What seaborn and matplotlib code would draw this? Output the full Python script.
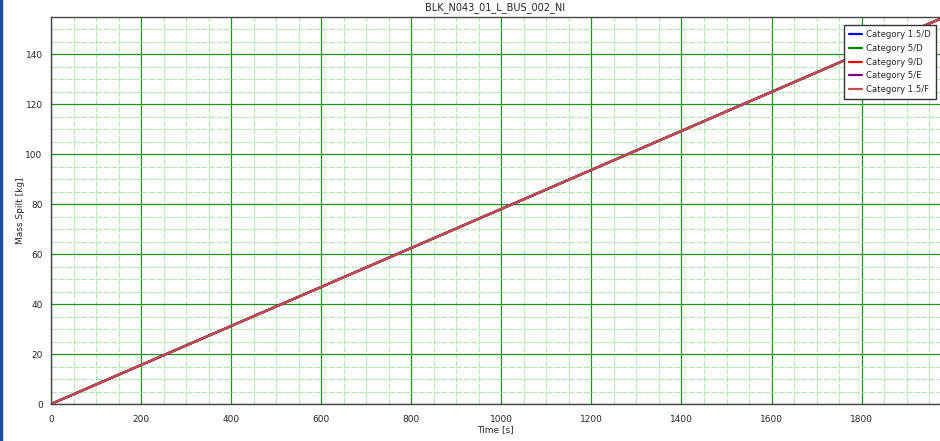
import pandas as pd
import matplotlib.pyplot as plt
from matplotlib.lines import Line2D
from matplotlib.ticker import MultipleLocator
import seaborn as sns

# Values
categories = ['Category 1.5/D', 'Category 5/D', 'Category 9/D', 'Category 5/E', 'Category 1.5/F']
colors = ['#0000ff', '#008000', '#ff0000', '#800080', '#c05050']
time_s = [0, 2000]
mass_kg = [0, 156.25]

rows = []
for cat in categories:
    for t, m in zip(time_s, mass_kg):
        rows.append({'Time [s]': t, 'Mass Spilt [kg]': m, 'category': cat})
df = pd.DataFrame(rows)

sns.set_style('white')
plt.rcParams['font.family'] = ['DejaVu Sans']

fig = plt.figure(figsize=(9.4, 4.41), dpi=100)
ax = fig.add_axes([51 / 940, 1 - 404 / 441, 1 - 51 / 940, (404 - 17) / 441])

sns.lineplot(data=df, x='Time [s]', y='Mass Spilt [kg]', hue='category',
             hue_order=categories, palette=colors, linewidth=1.6, ax=ax)

ax.set_xlim(0, 1974)
ax.set_ylim(0, 155)
ax.xaxis.set_major_locator(MultipleLocator(200))
ax.xaxis.set_minor_locator(MultipleLocator(50))
ax.yaxis.set_major_locator(MultipleLocator(20))
ax.yaxis.set_minor_locator(MultipleLocator(5))

ax.grid(which='minor', color='#9bec9b', linestyle='--', linewidth=0.6, dashes=(7, 2))
ax.grid(which='major', color='#1f931f', linestyle='-', linewidth=0.9)
ax.set_axisbelow(True)

ax.tick_params(which='major', direction='inout', length=6, width=1, color='#444444',
               labelsize=6.5, pad=3)
ax.tick_params(axis='x', which='major', pad=5)
ax.tick_params(which='minor', direction='inout', length=4, width=1, color='#444444')

for side in ['left', 'bottom', 'top']:
    ax.spines[side].set_color('#444444')
    ax.spines[side].set_linewidth(1)
ax.spines['right'].set_visible(False)

ax.set_xlabel('Time [s]', fontsize=6.5, labelpad=1)
ax.set_ylabel('Mass Spilt [kg]', fontsize=6.5, labelpad=0)
ax.set_title('BLK_N043_01_L_BUS_002_NI', fontsize=7, pad=5)

leg = ax.legend(loc='upper right', bbox_to_anchor=(1.0, 0.99), fontsize=6.1,
                frameon=True, fancybox=False, framealpha=1, edgecolor='#333333',
                handlelength=1.5, labelspacing=0.55, borderpad=0.6, handletextpad=0.5)
leg.get_frame().set_linewidth(1)
for h in leg.get_lines():
    h.set_linewidth(1.6)

# window frame on the left edge
fig.add_artist(Line2D([0.0015, 0.0015], [0, 1], transform=fig.transFigure,
                      color='#1f4e9a', linewidth=2.5))

fig.savefig('out.png', dpi=100)
